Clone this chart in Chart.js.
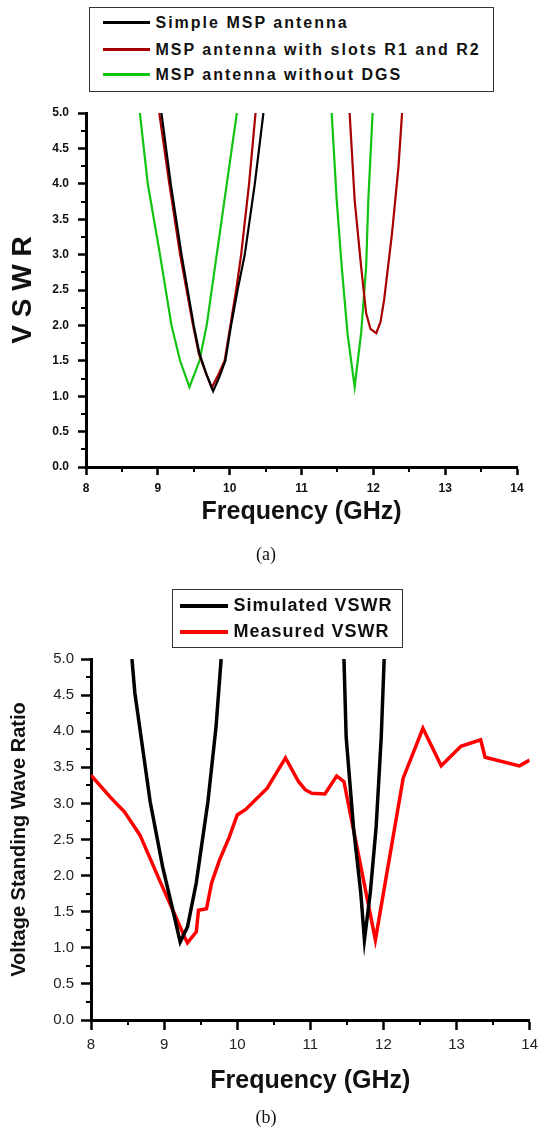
<!DOCTYPE html>
<html>
<head>
<meta charset="utf-8">
<script src="https://cdn.jsdelivr.net/npm/chart.js@4.4.1/dist/chart.umd.min.js"></script>
<style>
  html, body { margin: 0; padding: 0; background: #fff; }
  #page { position: relative; width: 544px; height: 1131px; overflow: hidden; font-family: "Liberation Sans", Arial, sans-serif; }
  canvas { position: absolute; left: 0; }
  #chartA { top: 0; }
  #chartB { top: 560px; }
  .legend { position: absolute; box-sizing: border-box; border: 1.5px solid #333; background: #fff; }
  #legendA { left: 89px; top: 7px; width: 405px; height: 85px; }
  #legendB { left: 172px; top: 589px; width: 231px; height: 59px; }
  .row { position: absolute; height: 24px; display: flex; align-items: center; white-space: nowrap; font-weight: bold; color: #111; }
  .swatch { display: inline-block; height: 0; border-top-style: solid; }
  #legendA .row { left: 12.5px; font-size: 16px; letter-spacing: 2px; }
  #legendA .swatch { width: 47px; border-top-width: 3px; margin-right: 6px; }
  #legendB .row { left: 6.5px; font-size: 18px; letter-spacing: 1px; }
  #legendB .swatch { width: 48px; border-top-width: 4px; margin-right: 6px; }
  .caption { position: absolute; left: 236px; width: 60px; text-align: center; font-family: "Liberation Serif", "Times New Roman", serif; font-size: 18px; color: #111; }
</style>
</head>
<body>
<div id="page">
  <canvas id="chartA" width="544" height="560"></canvas>
  <canvas id="chartB" width="544" height="571"></canvas>
  <div class="legend" id="legendA"></div>
  <div class="legend" id="legendB"></div>
  <div class="caption" style="top:544px">(a)</div>
  <div class="caption" style="top:1107px">(b)</div>
</div>
<script>
// (a) VSWR of the three antenna variants, null marks the gap between the two bands
const A_SIMPLE_F = [9.05, 9.18, 9.33, 9.50, 9.58, 9.68, 9.77, 9.86, 9.94, 10.02, 10.11, 10.21, 10.35, 10.47];
const A_SIMPLE_V = [5.0, 4.0, 3.0, 2.0, 1.6, 1.3, 1.07, 1.28, 1.5, 2.0, 2.5, 3.0, 4.0, 5.0];

const A_SLOTS_F = [9.02, 9.16, 9.31, 9.49, 9.57, 9.66, 9.75, 9.84, 9.93, 10.01, 10.09, 10.16, 10.27, 10.36,
  11.0, 11.67, 11.74, 11.83, 11.90, 11.96, 12.04, 12.10, 12.15, 12.26, 12.35, 12.40];
const A_SLOTS_V = [5.0, 4.0, 3.0, 2.0, 1.6, 1.35, 1.12, 1.3, 1.5, 2.0, 2.5, 3.0, 4.0, 5.0,
  null, 5.0, 3.77, 2.83, 2.17, 1.95, 1.89, 2.05, 2.36, 3.30, 4.24, 5.0];

const A_NODGS_F = [8.75, 8.86, 9.03, 9.19, 9.31, 9.44, 9.58, 9.68, 9.82, 9.96, 10.10,
  11.0, 11.42, 11.49, 11.56, 11.64, 11.74, 11.83, 11.90, 11.93, 11.99];
const A_NODGS_V = [5.0, 4.0, 3.0, 2.0, 1.5, 1.13, 1.5, 2.0, 3.0, 4.0, 5.0,
  null, 5.0, 3.77, 2.83, 1.89, 1.13, 1.89, 2.83, 3.77, 5.0];

// (b) simulated vs measured
const B_SIM_F = [8.56, 8.60, 8.81, 8.98, 9.12, 9.22, 9.32, 9.44, 9.60, 9.71, 9.78,
  11.0, 11.46, 11.49, 11.59, 11.69, 11.74, 11.82, 11.90, 11.97, 12.01];
const B_SIM_V = [5.0, 4.53, 3.02, 2.12, 1.52, 1.08, 1.29, 1.90, 3.03, 4.06, 5.0,
  null, 5.0, 3.92, 2.67, 1.76, 1.11, 1.76, 2.67, 3.92, 5.0];

const B_MEAS_F = [8.00, 8.26, 8.46, 8.67, 8.94, 9.12, 9.28, 9.32, 9.44, 9.47, 9.58, 9.65, 9.76, 9.89,
  10.00, 10.12, 10.41, 10.66, 10.84, 10.93, 11.02, 11.20, 11.36, 11.46, 11.89, 12.27, 12.54,
  12.79, 13.06, 13.33, 13.39, 13.86, 14.00];
const B_MEAS_V = [3.39, 3.09, 2.88, 2.56, 1.93, 1.52, 1.15, 1.07, 1.22, 1.52, 1.54, 1.90, 2.22, 2.53,
  2.84, 2.92, 3.21, 3.63, 3.30, 3.19, 3.14, 3.13, 3.38, 3.30, 1.11, 3.35, 4.04,
  3.52, 3.79, 3.88, 3.64, 3.52, 3.60];

const X_MIN = 8, X_MAX = 14, X_STEP = 1;
const Y_MIN = 0, Y_MAX = 5, Y_STEP = 0.5;

const SERIES_A = [
  { label: "Simple MSP antenna", freq: A_SIMPLE_F, vswr: A_SIMPLE_V, color: "#000000" },
  { label: "MSP antenna with slots R1 and R2", freq: A_SLOTS_F, vswr: A_SLOTS_V, color: "#a80000" },
  { label: "MSP antenna without DGS", freq: A_NODGS_F, vswr: A_NODGS_V, color: "#12c412" }
];
const SERIES_B = [
  { label: "Simulated VSWR", freq: B_SIM_F, vswr: B_SIM_V, color: "#000000" },
  { label: "Measured VSWR", freq: B_MEAS_F, vswr: B_MEAS_V, color: "#ff0000" }
];

// short ticks half way between the labelled ones
const minorTicks = {
  id: "minorTicks",
  afterDraw(chart, args, opts) {
    const { ctx, chartArea, scales } = chart;
    ctx.save();
    ctx.strokeStyle = "#000";
    ctx.lineWidth = opts.width;
    ctx.beginPath();
    for (let v = X_MIN + X_STEP / 2; v < X_MAX; v += X_STEP) {
      const px = Math.round(scales.x.getPixelForValue(v));
      ctx.moveTo(px, chartArea.bottom);
      ctx.lineTo(px, chartArea.bottom + opts.length);
    }
    for (let v = Y_MIN + Y_STEP / 2; v < Y_MAX; v += Y_STEP) {
      const py = Math.round(scales.y.getPixelForValue(v));
      ctx.moveTo(chartArea.left, py);
      ctx.lineTo(chartArea.left - opts.length, py);
    }
    ctx.stroke();
    ctx.restore();
  }
};

function vswrChart(canvasId, series, look) {
  return new Chart(document.getElementById(canvasId), {
    type: "line",
    data: {
      datasets: series.map((s) => ({
        label: s.label,
        data: s.freq.map((f, i) => ({ x: f, y: s.vswr[i] })),
        borderColor: s.color,
        borderWidth: look.lineWidth,
        pointRadius: 0,
        tension: 0,
        fill: false
      }))
    },
    options: {
      responsive: false,
      animation: false,
      events: [],
      layout: { padding: look.padding },
      plugins: {
        legend: { display: false },
        tooltip: { enabled: false },
        minorTicks: { length: look.minorLength, width: 2 }
      },
      scales: {
        x: {
          type: "linear",
          min: X_MIN,
          max: X_MAX,
          afterFit: (scale) => { scale.height = look.xHeight; },
          ticks: { stepSize: X_STEP, color: look.tickColor, font: look.tickFont, padding: look.xTickPad, maxRotation: 0 },
          grid: { drawOnChartArea: false, tickLength: look.tickLength, tickWidth: 2.5, tickColor: "#000" },
          border: { color: "#000", width: 3 },
          title: { display: true, text: "Frequency (GHz)", color: "#111", font: look.xTitleFont, padding: { top: 0, bottom: look.xTitlePad } }
        },
        y: {
          min: Y_MIN,
          max: Y_MAX,
          afterFit: (scale) => { scale.width = look.yWidth; },
          ticks: { stepSize: Y_STEP, color: look.tickColor, font: look.tickFont, padding: look.yTickPad, callback: (v) => v.toFixed(1) },
          grid: { drawOnChartArea: false, tickLength: look.tickLength, tickWidth: 2.5, tickColor: "#000" },
          border: { color: "#000", width: 3 },
          title: { display: true, text: look.yTitle, color: "#111", font: look.yTitleFont, padding: { top: look.yTitlePad, bottom: 0 } }
        }
      }
    },
    plugins: [minorTicks]
  });
}

function buildLegend(boxId, series, rowTops) {
  const box = document.getElementById(boxId);
  series.forEach((s, i) => {
    const row = document.createElement("div");
    row.className = "row";
    row.style.top = rowTops[i] + "px";
    const swatch = document.createElement("span");
    swatch.className = "swatch";
    swatch.style.borderTopColor = s.color;
    const text = document.createElement("span");
    text.textContent = s.label;
    row.append(swatch, text);
    box.appendChild(row);
  });
}

vswrChart("chartA", SERIES_A, {
  padding: { top: 113, right: 27, bottom: 0, left: 0 },
  yWidth: 86,
  xHeight: 93,
  lineWidth: 2.2,
  tickLength: 8,
  minorLength: 5,
  tickColor: "#111",
  tickFont: { family: "'Liberation Sans', Arial, sans-serif", size: 12, weight: "bold" },
  xTickPad: 6,
  yTickPad: 9,
  yTitle: "V S W R",
  yTitleFont: { family: "'Liberation Sans', Arial, sans-serif", size: 28, weight: "bold" },
  yTitlePad: 6,
  xTitleFont: { family: "'Liberation Sans', Arial, sans-serif", size: 25, weight: "bold" },
  xTitlePad: 33
});

vswrChart("chartB", SERIES_B, {
  padding: { top: 99, right: 12, bottom: 0, left: 0 },
  yWidth: 91,
  xHeight: 111,
  lineWidth: 3.5,
  tickLength: 10,
  minorLength: 5,
  tickColor: "#222",
  tickFont: { family: "'Liberation Sans', Arial, sans-serif", size: 15 },
  xTickPad: 6,
  yTickPad: 7,
  yTitle: "Voltage Standing Wave Ratio",
  yTitleFont: { family: "'Liberation Sans', Arial, sans-serif", size: 20, weight: "bold" },
  yTitlePad: 7,
  xTitleFont: { family: "'Liberation Sans', Arial, sans-serif", size: 25, weight: "bold" },
  xTitlePad: 35
});

buildLegend("legendA", SERIES_A, [2.5, 29.5, 54.5]);
buildLegend("legendB", SERIES_B, [3.5, 29.5]);
</script>
</body>
</html>
